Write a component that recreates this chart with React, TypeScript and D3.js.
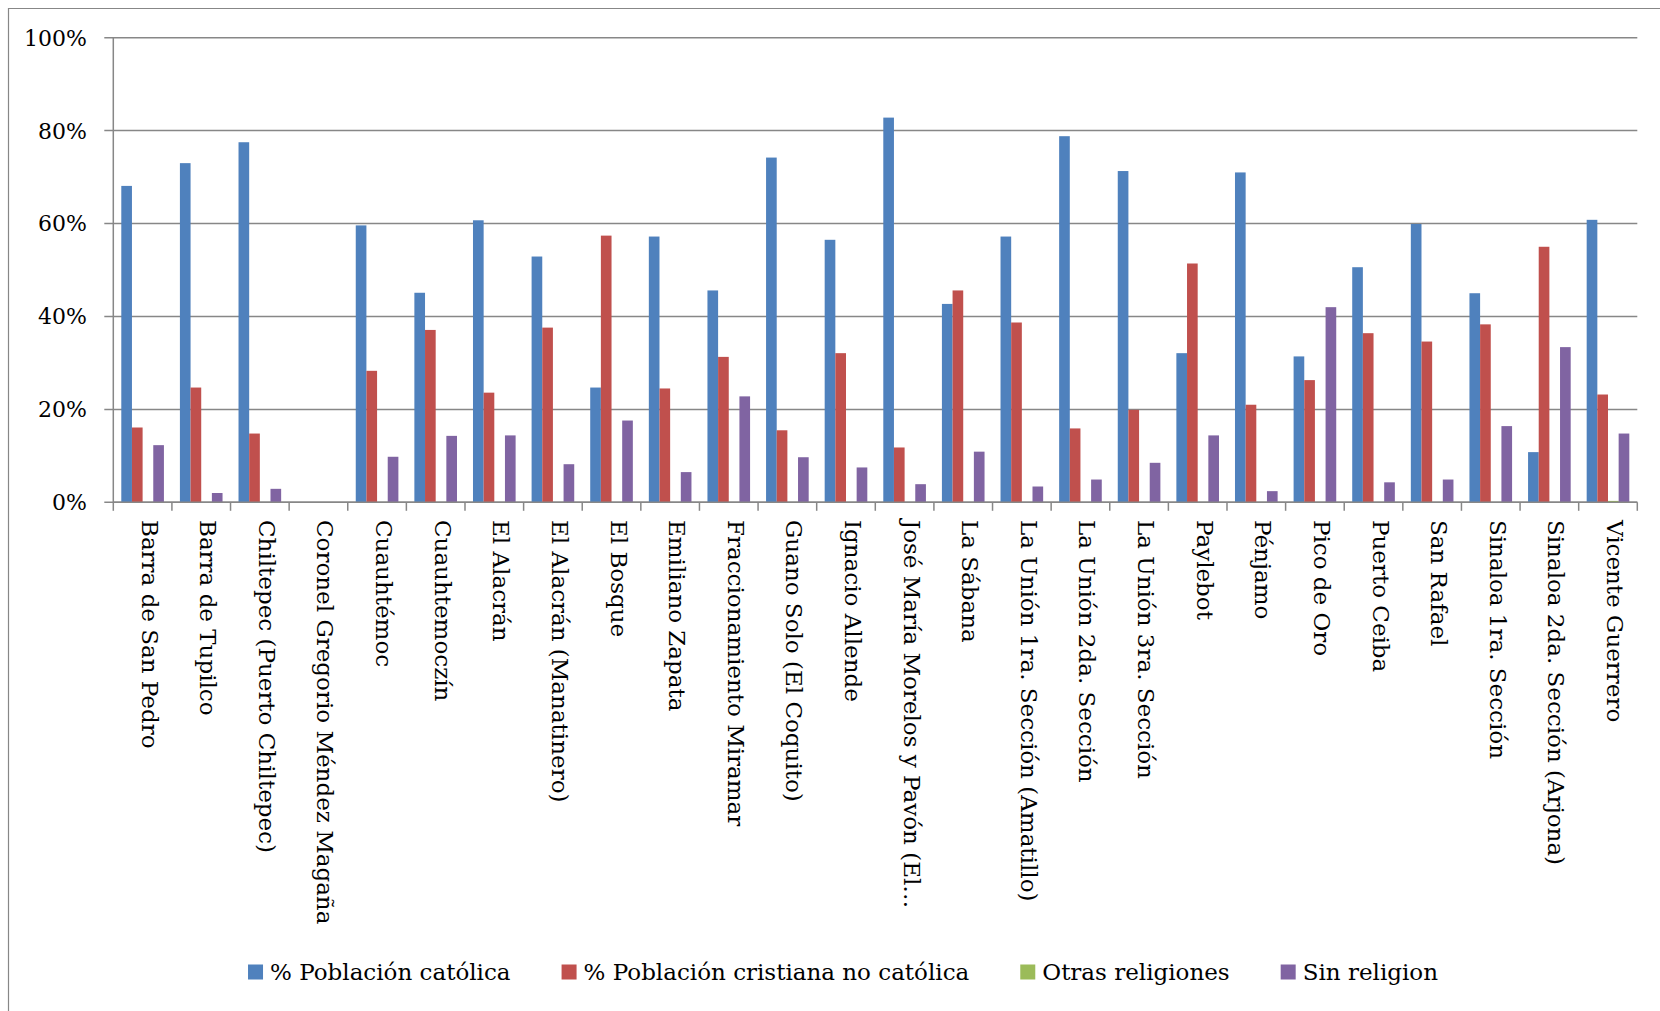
import React, { useLayoutEffect, useRef, useState } from "react";
import * as d3 from "d3";

const categories = [
  "Barra de San Pedro",
  "Barra de Tupilco",
  "Chiltepec (Puerto Chiltepec)",
  "Coronel Gregorio Méndez Magaña",
  "Cuauhtémoc",
  "Cuauhtemoczín",
  "El Alacrán",
  "El Alacrán (Manatinero)",
  "El Bosque",
  "Emiliano Zapata",
  "Fraccionamiento Miramar",
  "Guano Solo (El Coquito)",
  "Ignacio Allende",
  "José María Morelos y Pavón (El…",
  "La Sábana",
  "La Unión 1ra. Sección (Amatillo)",
  "La Unión 2da. Sección",
  "La Unión 3ra. Sección",
  "Paylebot",
  "Pénjamo",
  "Pico de Oro",
  "Puerto Ceiba",
  "San Rafael",
  "Sinaloa 1ra. Sección",
  "Sinaloa 2da. Sección (Arjona)",
  "Vicente Guerrero",
];

const catolica = [68.1, 73.0, 77.5, 0, 59.6, 45.1, 60.7, 52.9, 24.7, 57.2, 45.6, 74.2, 56.5, 82.8, 42.7, 57.2, 78.8, 71.3, 32.1, 71.0, 31.4, 50.6, 59.9, 45.0, 10.8, 60.8];
const cristianaNoCatolica = [16.1, 24.7, 14.8, 0, 28.3, 37.1, 23.6, 37.6, 57.4, 24.5, 31.3, 15.5, 32.1, 11.8, 45.6, 38.7, 15.9, 19.9, 51.4, 21.0, 26.3, 36.4, 34.6, 38.3, 55.0, 23.2];
const otrasReligiones = [0, 0, 0, 0, 0, 0, 0, 0, 0, 0, 0, 0, 0, 0, 0, 0, 0, 0, 0, 0, 0, 0, 0, 0, 0, 0.3];
const sinReligion = [12.3, 2.0, 2.9, 0, 9.8, 14.3, 14.4, 8.2, 17.6, 6.5, 22.8, 9.7, 7.5, 3.9, 10.9, 3.4, 4.9, 8.5, 14.4, 2.4, 42.0, 4.3, 4.9, 16.4, 33.4, 14.8];

const seriesNames = [
  "% Población católica",
  "% Población cristiana no católica",
  "Otras religiones",
  "Sin religion",
];
const seriesColors = ["#4F81BD", "#C0504D", "#9BBB59", "#8064A2"];
const seriesValues = [catolica, cristianaNoCatolica, otrasReligiones, sinReligion];

const yTicks = [0, 0.2, 0.4, 0.6, 0.8, 1.0];

const W = 1660;
const H = 1011;
const FONT = "'DejaVu Serif', 'Liberation Serif', serif";
const GRID = "#878787";

export default function App() {
  const left = 113.3;
  const right = 1637.3;
  const top = 37.7;
  const bottom = 502.3;

  const x = d3.scaleBand<string>().domain(categories).range([left, right]).padding(0);
  const inner = d3
    .scaleBand<string>()
    .domain(seriesNames)
    .range([0, x.bandwidth()])
    .paddingInner(0)
    .paddingOuter(0.75);
  const y = d3.scaleLinear().domain([0, 1]).range([bottom, top]);
  const pct = d3.format(".0%");

  const legendRefs = useRef<(SVGTextElement | null)[]>([]);
  const [widths, setWidths] = useState<number[]>([225, 385, 190, 140]);
  useLayoutEffect(() => {
    const w = legendRefs.current.map((el) => (el ? el.getComputedTextLength() : 0));
    if (w.every((v) => v > 0)) setWidths(w);
  }, []);

  const sq = 15;
  const gapText = 7;
  const gapItem = 51;
  const itemWidths = widths.map((w) => sq + gapText + w);
  const totalLegend = d3.sum(itemWidths) + gapItem * (itemWidths.length - 1);
  const legendCenter = 843;
  let cursor = legendCenter - totalLegend / 2;
  const legendX = itemWidths.map((w) => {
    const pos = cursor;
    cursor += w + gapItem;
    return pos;
  });
  const legendY = 972;

  return (
    <svg
      width={W}
      height={H}
      style={{ position: "absolute", left: 0, top: 0, display: "block", background: "#fff" }}
      fontFamily={FONT}
    >
      <rect x={0} y={0} width={W} height={H} fill="#fff" />
      {/* outer frame */}
      <path d={`M8.5,${H} V8.5 H${W}`} fill="none" stroke={GRID} strokeWidth={1.2} />

      {/* gridlines with left ticks */}
      {yTicks.map((t) => (
        <g key={t}>
          <line x1={104.3} x2={right} y1={y(t)} y2={y(t)} stroke={GRID} strokeWidth={1.5} />
          <text x={87} y={y(t)} dy="0.36em" textAnchor="end" fontSize={22} fill="#000">
            {pct(t)}
          </text>
        </g>
      ))}

      {/* y axis */}
      <line x1={left} x2={left} y1={top} y2={bottom} stroke={GRID} strokeWidth={1.5} />

      {/* bars */}
      {seriesValues.map((vals, si) =>
        vals.map((v, ci) => {
          const bx = (x(categories[ci]) as number) + (inner(seriesNames[si]) as number);
          const by = y(v / 100);
          return v > 0 ? (
            <rect
              key={`${si}-${ci}`}
              x={bx}
              y={by}
              width={inner.bandwidth()}
              height={bottom - by}
              fill={seriesColors[si]}
            />
          ) : null;
        })
      )}

      {/* x axis */}
      <line x1={left} x2={right} y1={bottom} y2={bottom} stroke={GRID} strokeWidth={1.5} />
      {d3.range(categories.length + 1).map((i) => {
        const tx = i < categories.length ? (x(categories[i]) as number) : right;
        return <line key={i} x1={tx} x2={tx} y1={bottom} y2={bottom + 8.5} stroke={GRID} strokeWidth={1.5} />;
      })}

      {/* x labels, rotated */}
      {categories.map((c) => {
        const cx = (x(c) as number) + x.bandwidth() / 2;
        return (
          <text key={c} transform={`translate(${cx - 1},${520}) rotate(90)`} fontSize={23} fill="#000">
            {c}
          </text>
        );
      })}

      {/* legend */}
      {seriesNames.map((name, i) => (
        <g key={name} transform={`translate(${legendX[i]},${legendY})`}>
          <rect x={0} y={-7.5} width={sq} height={sq} fill={seriesColors[i]} />
          <text
            ref={(el) => {
              legendRefs.current[i] = el;
            }}
            x={sq + gapText}
            y={0}
            dy="0.36em"
            fontSize={23}
            fill="#000"
          >
            {name}
          </text>
        </g>
      ))}
    </svg>
  );
}
